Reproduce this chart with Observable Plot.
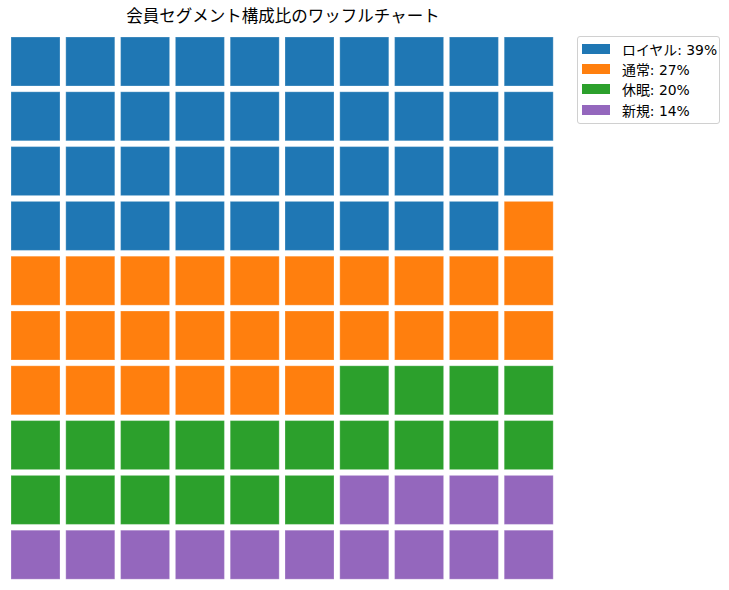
<!DOCTYPE html>
<html>
<head>
<meta charset="utf-8">
<script src="https://cdn.jsdelivr.net/npm/d3@7"></script>
<script src="https://cdn.jsdelivr.net/npm/@observablehq/plot@0.6"></script>
<style>
  body { margin: 0; background: #fff; font-family: "DejaVu Sans", "Noto Sans CJK JP", sans-serif; }
  #wrap { position: relative; width: 729px; height: 590px; }
  #title { position: absolute; left: 0; top: 6px; width: 566px; text-align: center; font-size: 16.5px; color: #000; line-height: 22px; }
  #chart { position: absolute; left: 0; top: 30px; }
  #legend { position: absolute; left: 577px; top: 36px; width: 143px; height: 88px; border: 1px solid #d0d0d0; border-radius: 3px; box-sizing: border-box; font-size: 13.9px; }
  .item { position: absolute; left: 4px; height: 20px; display: flex; align-items: center; }
  .sw { width: 28px; height: 10px; margin-right: 12px; }
</style>
</head>
<body>
<div id="wrap">
  <div id="title">会員セグメント構成比のワッフルチャート</div>
  <div id="chart"></div>
  <div id="legend"></div>
</div>
<script>
const categories = ["ロイヤル", "通常", "休眠", "新規"];
const counts = [39, 27, 20, 14];
const colors = ["#1f77b4", "#ff7f0e", "#2ca02c", "#9467bd"];
const nCols = 10;
const nRows = 10;

const cells = [];
let idx = 0;
categories.forEach((c, ci) => {
  for (let k = 0; k < counts[ci]; k++) {
    cells.push({ cat: c, col: idx % nCols, row: Math.floor(idx / nCols) });
    idx++;
  }
});

const pitch = 54.8;
const chart = Plot.plot({
  width: 729,
  height: 560,
  margin: 0,
  x: { type: "linear", domain: [0, nCols], range: [11, 11 + nCols * pitch], axis: null },
  y: { type: "linear", domain: [0, nRows], range: [7, 7 + nRows * pitch], axis: null },
  color: { domain: categories, range: colors },
  marks: [
    Plot.rect(cells, {
      x1: "col", x2: d => d.col + 1,
      y1: "row", y2: d => d.row + 1,
      fill: "cat",
      insetRight: 5.8, insetBottom: 5.8,
      stroke: "#ffffff", strokeOpacity: 0.25, strokeWidth: 1
    })
  ]
});
document.getElementById("chart").appendChild(chart);

const legend = document.getElementById("legend");
const total = d3.sum(counts);
categories.forEach((c, i) => {
  const it = document.createElement("div");
  it.className = "item";
  it.style.top = (1.5 + i * 20.4) + "px";
  const sw = document.createElement("div");
  sw.className = "sw";
  sw.style.background = colors[i];
  const tx = document.createElement("span");
  tx.textContent = `${c}: ${Math.round(counts[i] / total * 100)}%`;
  it.appendChild(sw);
  it.appendChild(tx);
  legend.appendChild(it);
});
</script>
</body>
</html>
